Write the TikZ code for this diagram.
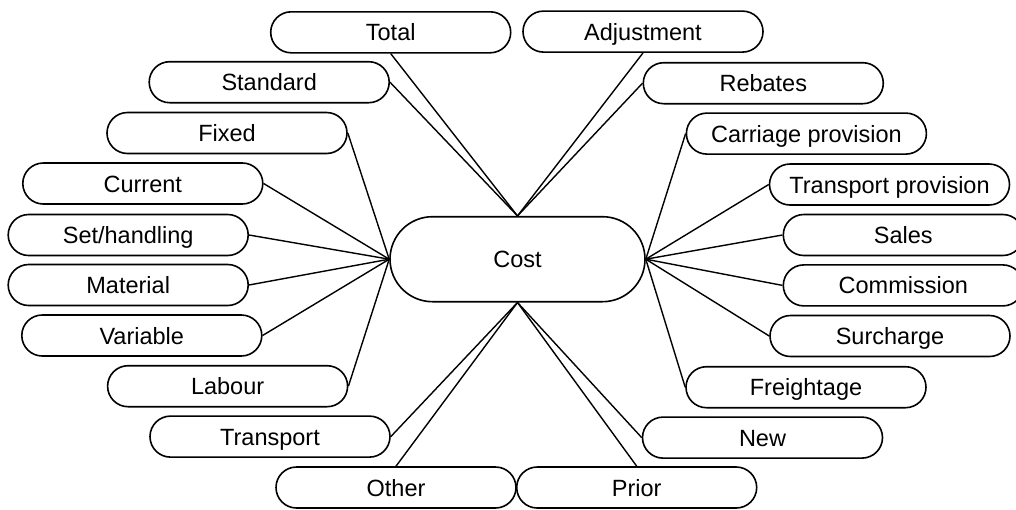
\documentclass[tikz,border=0pt]{standalone}
\usepackage{fontspec}
\setmainfont{Liberation Sans}
\begin{document}
\begin{tikzpicture}[x=1pt,y=-1pt,
  term/.style={draw, line width=1.6pt, rounded corners=20.5pt,
    minimum width=240pt, minimum height=41pt, inner sep=0pt,
    text height=17pt, text depth=0pt,
    font=\fontsize{23.5}{28}\selectfont},
  hub/.style={term, minimum width=255pt, minimum height=85pt, rounded corners=42.5pt},
  link/.style={line width=1.4pt}]
\useasboundingbox (0,0) rectangle (1016,509);

% central node
\node[hub] (cost) at (517.5,259.2) {Cost};

% left-hand terms
\node[term] (total)    at (390.7,32.3)  {Total};
\node[term] (standard) at (269.2,82.2)  {Standard};
\node[term] (fixed)    at (227.0,133.0) {Fixed};
\node[term] (current)  at (142.8,183.5) {Current};
\node[term] (sethand)  at (128.2,235.0) {Set/handling};
\node[term] (material) at (128.2,285.0) {Material};
\node[term] (variable) at (141.8,335.5) {Variable};
\node[term] (labour)   at (227.6,386.2) {Labour};
\node[term] (transport) at (270.0,436.6) {Transport};
\node[term] (other)    at (396.0,487.5) {Other};

% right-hand terms
\node[term] (adjust)   at (643.0,31.6)  {Adjustment};
\node[term] (rebates)  at (763.3,83.2)  {Rebates};
\node[term] (carriage) at (806.4,133.6) {Carriage provision};
\node[term] (tprov)    at (889.5,184.5) {Transport provision};
\node[term] (sales)    at (903.3,235.0) {Sales};
\node[term] (commiss)  at (903.3,285.4) {Commission};
\node[term] (surch)    at (890.0,336.0) {Surcharge};
\node[term] (freight)  at (806.0,387.2) {Freightage};
\node[term] (new)      at (762.5,437.6) {New};
\node[term] (prior)    at (636.7,487.5) {Prior};

% connectors from the top of the hub
\draw[link] (cost.north) -- (total.south);
\draw[link] (cost.north) -- (standard.east);
\draw[link] (cost.north) -- (adjust.south);
\draw[link] (cost.north) -- (rebates.west);

% connectors from the left of the hub
\foreach \n in {fixed,current,sethand,material,variable,labour}
  \draw[link] (cost.west) -- (\n.east);

% connectors from the right of the hub
\foreach \n in {carriage,tprov,sales,commiss,surch,freight}
  \draw[link] (cost.east) -- (\n.west);

% connectors from the bottom of the hub
\draw[link] (cost.south) -- (transport.east);
\draw[link] (cost.south) -- (other.north);
\draw[link] (cost.south) -- (prior.north);
\draw[link] (cost.south) -- (new.west);
\end{tikzpicture}
\end{document}
